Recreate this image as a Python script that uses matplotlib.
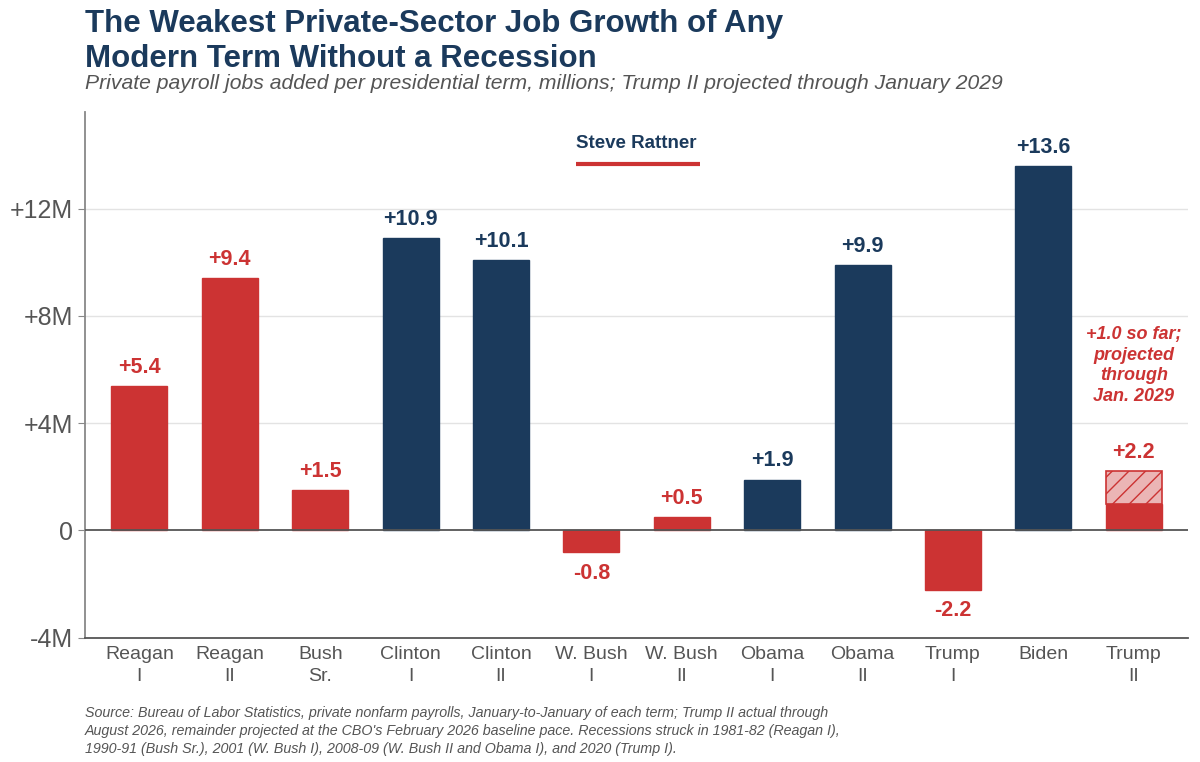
import matplotlib.pyplot as plt
import numpy as np

terms = ["Reagan\nI", "Reagan\nII", "Bush\nSr.", "Clinton\nI", "Clinton\nII", "W. Bush\nI",
         "W. Bush\nII", "Obama\nI", "Obama\nII", "Trump\nI", "Biden", "Trump\nII"]
jobs = [5.4, 9.4, 1.5, 10.9, 10.1, -0.8, 0.5, 1.9, 9.9, -2.2, 13.6, 2.2]
party = ["R", "R", "R", "D", "D", "R", "R", "D", "D", "R", "D", "R"]
trump2_actual = 1.0

RED = "#CC3333"
NAVY = "#1B3A5C"
GRAY = "#555555"

plt.rcParams['font.family'] = ['Liberation Sans', 'DejaVu Sans']
plt.rcParams['hatch.color'] = RED

fig = plt.figure(figsize=(12, 7.62), dpi=100)
ax = fig.add_axes([0.071, 0.163, 0.919, 0.69])

x = np.arange(len(terms))
colors = [RED if p == "R" else NAVY for p in party]
w = 0.62

for i, (v, c) in enumerate(zip(jobs, colors)):
    if i == len(jobs) - 1:
        # Trump II: actual so far solid, projected remainder hatched
        ax.bar(i, trump2_actual, width=w, color=RED, edgecolor=RED, zorder=3)
        ax.bar(i, v - trump2_actual, bottom=trump2_actual, width=w, color="#EBB5B5",
               edgecolor=RED, hatch="//", linewidth=1.2, zorder=3)
    else:
        ax.bar(i, v, width=w, color=c, edgecolor=c, zorder=3)
    lab = f"+{v:.1f}" if v >= 0 else f"{v:.1f}"
    if v >= 0:
        ax.text(i, v + 0.3, lab, ha="center", va="bottom", color=c, fontsize=15.5, fontweight="bold")
    else:
        ax.text(i, v - 0.4, lab, ha="center", va="top", color=c, fontsize=15.5, fontweight="bold")

ax.text(11, 6.15, "+1.0 so far;\nprojected\nthrough\nJan. 2029", ha="center", va="center",
        color=RED, fontsize=13, fontweight="bold", style="italic", linespacing=1.3)

ax.set_xlim(-0.6, 11.6)
ax.set_ylim(-4, 15.6)
ax.set_yticks([-4, 0, 4, 8, 12])
ax.set_yticklabels(["-4M", "0", "+4M", "+8M", "+12M"], fontsize=18, color=GRAY)
ax.set_xticks(x)
ax.set_xticklabels(terms, fontsize=14, color=GRAY, linespacing=1.4)
ax.tick_params(axis="x", length=0, pad=6)
ax.tick_params(axis="y", length=5, color="#888888", pad=4)

for g in [4, 8, 12]:
    ax.axhline(g, color="#E3E3E3", linewidth=1, zorder=1)
ax.axhline(0, color="#555555", linewidth=1.3, zorder=4)

for s in ["top", "right"]:
    ax.spines[s].set_visible(False)
ax.spines["left"].set_color("#888888")
ax.spines["bottom"].set_color("#555555")
ax.spines["left"].set_linewidth(1.3)
ax.spines["bottom"].set_linewidth(1.3)

# byline with red underline
ax.text(5.5, 14.42, "Steve Rattner", ha="center", va="center", color=NAVY, fontsize=13.5, fontweight="bold")
ax.plot([4.83, 6.2], [13.66, 13.66], color=RED, linewidth=3, solid_capstyle="butt")

fig.text(0.071, 0.988, "The Weakest Private-Sector Job Growth of Any\nModern Term Without a Recession",
         ha="left", va="top", fontsize=22.5, fontweight="bold", color=NAVY, linespacing=1.2)
fig.text(0.071, 0.891, "Private payroll jobs added per presidential term, millions; Trump II projected through January 2029",
         ha="left", va="center", fontsize=15.2, style="italic", color=GRAY)

fig.text(0.071, 0.041,
         "Source: Bureau of Labor Statistics, private nonfarm payrolls, January-to-January of each term; Trump II actual through\n"
         "August 2026, remainder projected at the CBO's February 2026 baseline pace. Recessions struck in 1981-82 (Reagan I),\n"
         "1990-91 (Bush Sr.), 2001 (W. Bush I), 2008-09 (W. Bush II and Obama I), and 2020 (Trump I).",
         ha="left", va="center", fontsize=10.3, style="italic", color=GRAY, linespacing=1.35)

fig.savefig("out.png", dpi=100)
